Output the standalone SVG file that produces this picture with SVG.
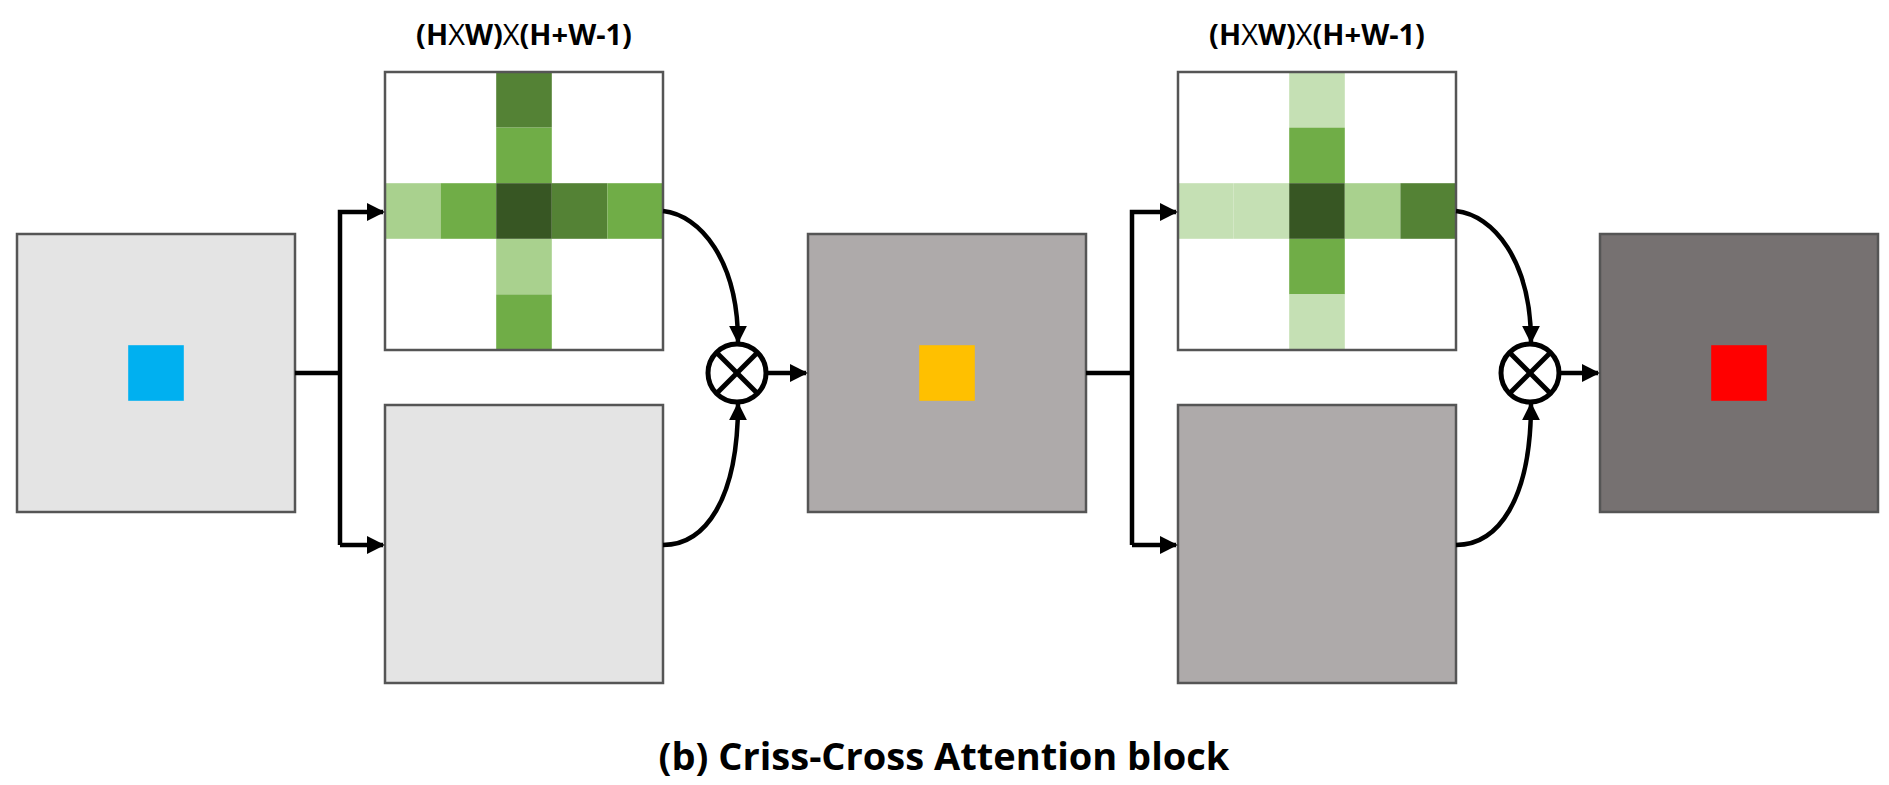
<svg xmlns="http://www.w3.org/2000/svg" width="1889" height="785" viewBox="0 0 1889 785">
<style>
.g line{stroke:#1a1a1a;stroke-width:2}
.frame{fill:none;stroke:#555;stroke-width:2.5}
.c{fill:none;stroke:#000;stroke-width:4.5}
.lbl{font-family:"Open Sans","Liberation Sans",sans-serif;font-weight:bold;font-size:29px;fill:#000}
.title{font-family:"Open Sans","Liberation Sans",sans-serif;font-weight:bold;font-size:38px;fill:#000}
</style>
<defs>
<marker id="ah" viewBox="0 0 10 10" refX="9" refY="5" markerWidth="4" markerHeight="4" orient="auto" markerUnits="strokeWidth">
<path d="M0,0 L10,5 L0,10 z" fill="#000"/>
</marker>
<g id="lines">
<line x1="55.6" y1="0" x2="55.6" y2="278"/><line x1="111.2" y1="0" x2="111.2" y2="278"/><line x1="166.8" y1="0" x2="166.8" y2="278"/><line x1="222.4" y1="0" x2="222.4" y2="278"/>
<line y1="55.6" x1="0" y2="55.6" x2="278"/><line y1="111.2" x1="0" y2="111.2" x2="278"/><line y1="166.8" x1="0" y2="166.8" x2="278"/><line y1="222.4" x1="0" y2="222.4" x2="278"/>
<rect class="frame" x="0" y="0" width="278" height="278"/>
</g>
</defs>

<g id="input" class="g" transform="translate(17,234)">
<rect width="278" height="278" fill="#e4e4e4"/>
<rect x="111.2" y="111.2" width="55.6" height="55.6" fill="#00b0f0"/>
<use href="#lines"/>
</g>

<g id="attn1" class="g" transform="translate(385,72)">
<rect width="278" height="278" fill="#fff"/>
<rect x="111.2" y="0" width="55.6" height="55.6" fill="#548235"/>
<rect x="111.2" y="55.6" width="55.6" height="55.6" fill="#70ad47"/>
<rect x="111.2" y="166.8" width="55.6" height="55.6" fill="#a9d18e"/>
<rect x="111.2" y="222.4" width="55.6" height="55.6" fill="#70ad47"/>
<rect x="0" y="111.2" width="55.6" height="55.6" fill="#a9d18e"/>
<rect x="55.6" y="111.2" width="55.6" height="55.6" fill="#70ad47"/>
<rect x="111.2" y="111.2" width="55.6" height="55.6" fill="#375623"/>
<rect x="166.8" y="111.2" width="55.6" height="55.6" fill="#548235"/>
<rect x="222.4" y="111.2" width="55.6" height="55.6" fill="#70ad47"/>
<use href="#lines"/>
</g>
<text class="lbl" x="524" y="45" text-anchor="middle">(H<tspan font-weight="normal">X</tspan>W)<tspan font-weight="normal">X</tspan>(H+W-1)</text>

<g id="value1" class="g" transform="translate(385,405)">
<rect width="278" height="278" fill="#e4e4e4"/>
<use href="#lines"/>
</g>

<g id="mul1">
<circle cx="737" cy="373" r="29" fill="#fff" stroke="#000" stroke-width="5"/>
<line x1="716.5" y1="352.5" x2="757.5" y2="393.5" stroke="#000" stroke-width="5"/>
<line x1="757.5" y1="352.5" x2="716.5" y2="393.5" stroke="#000" stroke-width="5"/>
</g>

<g id="mid" class="g" transform="translate(808,234)">
<rect width="278" height="278" fill="#aeaaaa"/>
<rect x="111.2" y="111.2" width="55.6" height="55.6" fill="#ffc000"/>
<use href="#lines"/>
</g>

<g id="attn2" class="g" transform="translate(1178,72)">
<rect width="278" height="278" fill="#fff"/>
<rect x="111.2" y="0" width="55.6" height="55.6" fill="#c5e0b4"/>
<rect x="111.2" y="55.6" width="55.6" height="55.6" fill="#70ad47"/>
<rect x="111.2" y="166.8" width="55.6" height="55.6" fill="#70ad47"/>
<rect x="111.2" y="222.4" width="55.6" height="55.6" fill="#c5e0b4"/>
<rect x="0" y="111.2" width="55.6" height="55.6" fill="#c5e0b4"/>
<rect x="55.6" y="111.2" width="55.6" height="55.6" fill="#c5e0b4"/>
<rect x="111.2" y="111.2" width="55.6" height="55.6" fill="#375623"/>
<rect x="166.8" y="111.2" width="55.6" height="55.6" fill="#a9d18e"/>
<rect x="222.4" y="111.2" width="55.6" height="55.6" fill="#548235"/>
<use href="#lines"/>
</g>
<text class="lbl" x="1317" y="45" text-anchor="middle">(H<tspan font-weight="normal">X</tspan>W)<tspan font-weight="normal">X</tspan>(H+W-1)</text>

<g id="value2" class="g" transform="translate(1178,405)">
<rect width="278" height="278" fill="#aeaaaa"/>
<use href="#lines"/>
</g>

<g id="mul2">
<circle cx="1530" cy="373" r="29" fill="#fff" stroke="#000" stroke-width="5"/>
<line x1="1509.5" y1="352.5" x2="1550.5" y2="393.5" stroke="#000" stroke-width="5"/>
<line x1="1550.5" y1="352.5" x2="1509.5" y2="393.5" stroke="#000" stroke-width="5"/>
</g>

<g id="output" class="g" transform="translate(1600,234)">
<rect width="278" height="278" fill="#767171"/>
<rect x="111.2" y="111.2" width="55.6" height="55.6" fill="#ff0000"/>
<use href="#lines"/>
</g>

<g id="connectors">
<path class="c" d="M295,373 H340"/>
<path class="c" d="M340,545 V212 H383" marker-end="url(#ah)"/>
<path class="c" d="M340,545 H383" marker-end="url(#ah)"/>
<path class="c" d="M663,211 C700,215 738,260 738,342" marker-end="url(#ah)"/>
<path class="c" d="M663,545 C705,545 738,500 738,404" marker-end="url(#ah)"/>
<path class="c" d="M766,373 H806" marker-end="url(#ah)"/>
<path class="c" d="M1086,373 H1132"/>
<path class="c" d="M1132,545 V212 H1176" marker-end="url(#ah)"/>
<path class="c" d="M1132,545 H1176" marker-end="url(#ah)"/>
<path class="c" d="M1456,211 C1493,215 1531,260 1531,342" marker-end="url(#ah)"/>
<path class="c" d="M1456,545 C1498,545 1531,500 1531,404" marker-end="url(#ah)"/>
<path class="c" d="M1559,373 H1598" marker-end="url(#ah)"/>
</g>

<text class="title" x="944" y="770" text-anchor="middle">(b) Criss-Cross Attention block</text>
</svg>
